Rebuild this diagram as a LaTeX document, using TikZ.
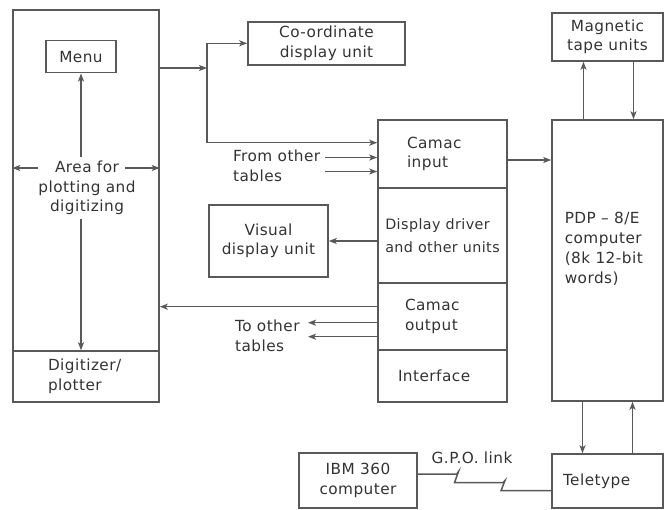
\documentclass[tikz,border=0pt]{standalone}
\usepackage{fontspec}
\setmainfont{DejaVu Sans}[LetterSpace=3]
\usetikzlibrary{arrows.meta}

\begin{document}
\begin{tikzpicture}[x=1pt, y=-1pt, line width=1.5pt, color=black!65, text=black!80,
    font=\fontsize{15.3}{19.5}\selectfont,
    >={Stealth[length=8pt,width=6pt,inset=2pt]},
    box/.style 2 args={draw, rectangle, inner sep=0pt, align=center,
      minimum width=#1, minimum height=#2},
    lefttext/.style={align=left, text width=#1}]
  \useasboundingbox (0,0) rectangle (664,509);

  % digitizing table
  \node[box={146}{341}] (area) at (86,180.5) {};
  \node[box={146}{51}, lefttext=76] (digi) at (86,376.5) {Digitizer/\\plotter};
  \node[box={70}{32}] (menu) at (81,56.7) {Menu};
  \node[align=center] (areatxt) at (87,188) {Area for\\plotting and\\digitizing};
  \coordinate (al) at (38,168);
  \coordinate (ar) at (125,168);
  \draw[->] (al) -- (al -| area.west);
  \draw[->] (ar) -- (ar -| area.east);
  \draw[->] (menu.south |- areatxt.north) -- (menu.south);
  \draw[->] (menu.south |- areatxt.south) -- (menu.south |- digi.north);

  % camac crate
  \node[box={129}{68}, lefttext=71] (camin) at (442.5,154) {Camac\\input};
  \node[box={129}{95}, align=left, font=\fontsize{14.3}{23}\selectfont] (driver)
    at (442.5,235.5) {Display driver\\and other units};
  \node[box={129}{67}, lefttext=75] (camout) at (442.5,316.5) {Camac\\output};
  \node[box={129}{52}, lefttext=89] (iface) at (442.5,376) {Interface};

  \node[box={157}{43}] (coord) at (326.5,43.3) {Co-ordinate\\display unit};
  \node[box={119}{72}] (vdu) at (268.5,241) {Visual\\display unit};

  % table output to display unit and camac input
  \coordinate (split) at (207,68);
  \draw[->] (split -| area.east) -- (split);
  \draw[->] (split) |- (coord.west);
  \draw[->] (split) |- ([yshift=11.3pt]camin.west);

  \node[anchor=west, align=left] (fromtxt) at (229,166) {From other\\tables};
  \coordinate (f1) at (325,157.5);
  \coordinate (f2) at (325,171.5);
  \draw[->] (f1) -- (f1 -| camin.west);
  \draw[->] (f2) -- (f2 -| camin.west);

  \draw[->] (driver.west |- vdu.east) -- (vdu.east);
  \draw[->] ([yshift=9.8pt]camout.west) -- ([yshift=9.8pt]camout.west -| area.east);

  \node[anchor=west, align=left] (totxt) at (231,336) {To other\\tables};
  \coordinate (t1) at (308,322.7);
  \coordinate (t2) at (308,336.7);
  \draw[->] (t1 -| camout.west) -- (t1);
  \draw[->] (t2 -| camout.west) -- (t2);

  % computer side
  \node[box={111}{281}] (pdp) at (607.5,260.5) {};
  \node[anchor=north west, align=left, inner sep=0pt,
        font=\fontsize{15.3}{20}\selectfont] (pdptxt) at (564,211)
        {PDP -- 8/E\\computer\\(8k 12-bit\\words)};
  \node[box={111}{48}] (tape) at (607.5,37) {Magnetic\\tape units};
  \node[box={111}{54}, lefttext=89] (tty) at (607.5,481) {Teletype};
  \node[box={118}{55}] (ibm) at (358,480.5) {IBM 360\\computer};

  \draw[->] ([yshift=-6pt]camin.east) -- ([yshift=-6pt]camin.east -| pdp.west);
  \draw[->] ([xshift=-24pt]pdp.north) -- ([xshift=-24pt]tape.south);
  \draw[->] ([xshift=26pt]tape.south) -- ([xshift=26pt]pdp.north);
  \draw[->] ([xshift=-25pt]pdp.south) -- ([xshift=-25pt]tty.north);
  \draw[->] ([xshift=25pt]tty.north) -- ([xshift=25pt]pdp.south);

  % line link
  \node (gpo) at (472,458) {G.P.O. link};
  \draw ([yshift=6.5pt]ibm.east) -- (456.7,474) -- (458.5,471.5) -- (454.5,482.7)
    -- (503,482.7) -- (505,480.5) -- (501,490.7) -- (tty.west |- 0,490.7);
\end{tikzpicture}
\end{document}
